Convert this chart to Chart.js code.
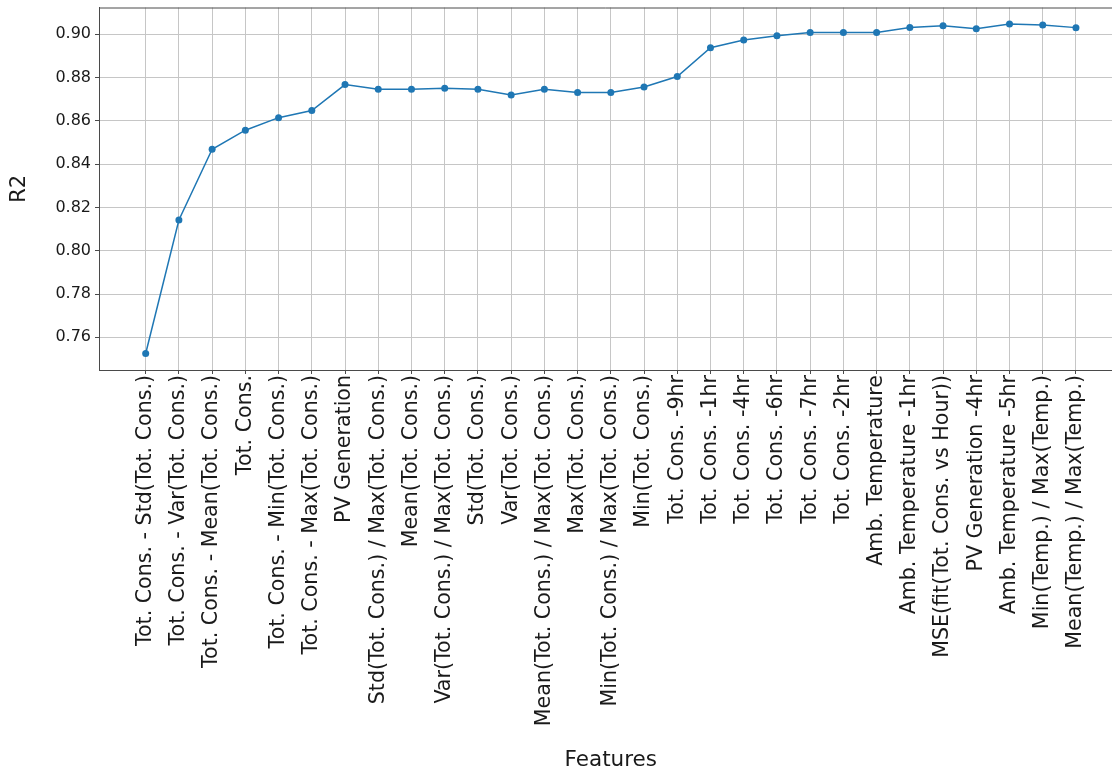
<!DOCTYPE html>
<html>
<head>
<meta charset="utf-8">
<title>R2 by feature</title>
<script src="https://cdn.jsdelivr.net/npm/chart.js@4/dist/chart.umd.min.js"></script>
<style>
  html, body { margin: 0; padding: 0; background: #ffffff; overflow: hidden; }
  #wrap { width: 1112px; height: 772px; }
</style>
</head>
<body>
<div id="wrap"><canvas id="chart" width="1112" height="772"></canvas></div>
<script>
// Features, in the order they were added
const categories = [
  "Tot. Cons. - Std(Tot. Cons.)",
  "Tot. Cons. - Var(Tot. Cons.)",
  "Tot. Cons. - Mean(Tot. Cons.)",
  "Tot. Cons.",
  "Tot. Cons. - Min(Tot. Cons.)",
  "Tot. Cons. - Max(Tot. Cons.)",
  "PV Generation",
  "Std(Tot. Cons.) / Max(Tot. Cons.)",
  "Mean(Tot. Cons.)",
  "Var(Tot. Cons.) / Max(Tot. Cons.)",
  "Std(Tot. Cons.)",
  "Var(Tot. Cons.)",
  "Mean(Tot. Cons.) / Max(Tot. Cons.)",
  "Max(Tot. Cons.)",
  "Min(Tot. Cons.) / Max(Tot. Cons.)",
  "Min(Tot. Cons.)",
  "Tot. Cons. -9hr",
  "Tot. Cons. -1hr",
  "Tot. Cons. -4hr",
  "Tot. Cons. -6hr",
  "Tot. Cons. -7hr",
  "Tot. Cons. -2hr",
  "Amb. Temperature",
  "Amb. Temperature -1hr",
  "MSE(fit(Tot. Cons. vs Hour))",
  "PV Generation -4hr",
  "Amb. Temperature -5hr",
  "Min(Temp.) / Max(Temp.)",
  "Mean(Temp.) / Max(Temp.)"
];

// R2 score after each feature
const r2Values = [
  0.7525, 0.8142, 0.8469, 0.8557, 0.8615, 0.8648, 0.8768, 0.8746,
  0.8746, 0.8751, 0.8746, 0.8720, 0.8746, 0.8731, 0.8731, 0.8757,
  0.8805, 0.8938, 0.8974, 0.8994, 0.9009, 0.9009, 0.9009, 0.9032,
  0.9040, 0.9026, 0.9048, 0.9043, 0.9031
];

// y-axis tick labels
const yTicks = [0.76, 0.78, 0.80, 0.82, 0.84, 0.86, 0.88, 0.90];

const FONT = "'DejaVu Sans', 'Liberation Sans', sans-serif";
const TEXT = "#1a1a1a";
const GRID = "#c6c6c6";
const SPINE = "#4a4a4a";

// top spine of the plot area (the plot runs on past the right edge of the page),
// plus the x-axis title centred under the middle of the feature range
const framePlugin = {
  id: "frame",
  afterDraw(chart) {
    const { ctx, chartArea: a } = chart;
    ctx.save();
    ctx.strokeStyle = SPINE;
    ctx.lineWidth = 1;
    ctx.beginPath();
    ctx.moveTo(a.left, a.top + 0.5);
    ctx.lineTo(a.right, a.top + 0.5);
    ctx.stroke();

    const xs = chart.scales.x;
    ctx.fillStyle = TEXT;
    ctx.font = "21.5px " + FONT;
    ctx.textAlign = "center";
    ctx.textBaseline = "alphabetic";
    ctx.fillText("Features", xs.getPixelForValue((categories.length - 1) / 2), 766);
    ctx.restore();
  }
};

new Chart(document.getElementById("chart"), {
  type: "line",
  data: {
    datasets: [{
      data: r2Values.map((v, i) => ({ x: i, y: v })),
      borderColor: "#1f77b4",
      backgroundColor: "#1f77b4",
      borderWidth: 1.5,
      pointRadius: 3.5,
      pointBorderWidth: 0,
      pointBackgroundColor: "#1f77b4",
      tension: 0,
      fill: false
    }]
  },
  options: {
    responsive: false,
    animation: false,
    layout: { autoPadding: false, padding: { top: 7.5, right: 0, bottom: 0, left: 0 } },
    plugins: {
      legend: { display: false },
      tooltip: { enabled: false }
    },
    scales: {
      x: {
        type: "linear",
        min: -1.405,
        max: 29.085,
        afterBuildTicks(scale) {
          scale.ticks = categories.map((_, i) => ({ value: i }));
        },
        afterFit(scale) {
          scale.height = 402;
          scale.paddingLeft = 0;
          scale.paddingRight = 0;
        },
        ticks: {
          autoSkip: false,
          minRotation: 90,
          maxRotation: 90,
          padding: 1,
          color: TEXT,
          font: { family: FONT, size: 20.6 },
          callback: (v) => categories[v]
        },
        grid: {
          color: GRID,
          lineWidth: 1,
          tickLength: 4,
          tickColor: SPINE
        },
        border: { color: SPINE, width: 1 },
        title: { display: false }
      },
      y: {
        min: 0.7449,
        max: 0.9124,
        afterBuildTicks(scale) {
          scale.ticks = yTicks.map(v => ({ value: v }));
        },
        afterFit(scale) {
          scale.width = 99;
          scale.paddingTop = 0;
          scale.paddingBottom = 0;
        },
        ticks: {
          padding: 4,
          color: TEXT,
          font: { family: FONT, size: 16 },
          callback: (v) => Number(v).toFixed(2)
        },
        grid: {
          color: GRID,
          lineWidth: 1,
          tickLength: 4,
          tickColor: SPINE
        },
        border: { color: SPINE, width: 1 },
        title: {
          display: true,
          text: "R2",
          color: TEXT,
          font: { family: FONT, size: 21 },
          padding: { top: 7, bottom: 4 }
        }
      }
    }
  },
  plugins: [framePlugin]
});
</script>
</body>
</html>
